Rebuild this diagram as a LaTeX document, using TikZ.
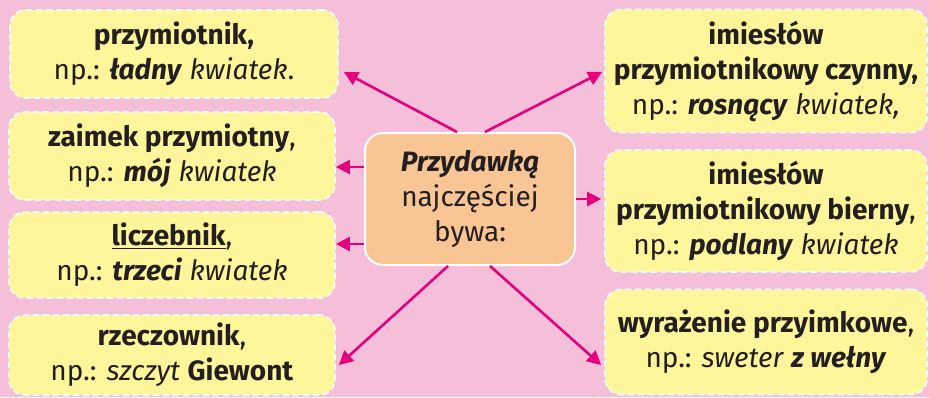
\documentclass[tikz,border=0pt]{standalone}
\usepackage{fontspec}
\setmainfont{Fira Sans}
\usetikzlibrary{arrows.meta}
\definecolor{bgpink}{HTML}{F6BFD9}
\definecolor{boxyellow}{HTML}{FFF59B}
\definecolor{huborange}{HTML}{F9C594}
\definecolor{linkpink}{HTML}{E5007D}
\definecolor{ink}{HTML}{231F20}

\begin{document}
\begin{tikzpicture}[x=1pt, y=-1pt,
    box/.style={rectangle, rounded corners=16pt, fill=boxyellow, draw=white,
      line width=1.8pt, dash pattern=on 6pt off 4pt, text=ink, align=center,
      font=\fontsize{28}{35}\selectfont, inner sep=0pt},
    hub/.style={rectangle, rounded corners=18pt, fill=huborange, draw=white,
      line width=2pt, text=ink, align=center,
      font=\fontsize{28}{35}\selectfont, minimum width=210pt, minimum height=132pt},
    link/.style={draw=linkpink, line width=2.6pt,
      -{Triangle[length=14pt,width=14pt]}}]
  \fill[bgpink] (0,0) rectangle (929,397);
  \useasboundingbox (0,0) rectangle (929,397);

  \node[hub] (hub) at (470,199) {\textbf{\textit{Przydawką}}\\najczęściej\\bywa:};

  \node[box, minimum width=328pt, minimum height=88pt] (L1) at (174,54)
    {\textbf{przymiotnik,}\\np.: \textbf{\textit{ładny}} \textit{kwiatek}.};
  \node[box, minimum width=326pt, minimum height=88pt] (L2) at (172,156)
    {\textbf{zaimek przymiotny},\\np.: \textbf{\textit{mój}} \textit{kwiatek}};
  \node[box, minimum width=326pt, minimum height=86pt] (L3) at (172,255)
    {\underline{\textbf{liczebnik}},\\np.: \textbf{\textit{trzeci}} \textit{kwiatek}};
  \node[box, minimum width=326pt, minimum height=80pt] (L4) at (172,355)
    {\textbf{rzeczownik},\\np.: \textit{szczyt} \textbf{Giewont}};

  \node[box, minimum width=322pt, minimum height=123pt] (R1) at (766,71)
    {\textbf{imiesłów}\\\textbf{przymiotnikowy czynny,}\\np.: \textbf{\textit{rosnący}} \textit{kwiatek,}};
  \node[box, minimum width=322pt, minimum height=122pt] (R2) at (766,211)
    {\textbf{imiesłów}\\\textbf{przymiotnikowy bierny},\\np.: \textbf{\textit{podlany}} \textit{kwiatek}};
  \node[box, minimum width=322pt, minimum height=105pt] (R3) at (766,342)
    {\textbf{wyrażenie przyimkowe},\\np.: \textit{sweter} \textbf{\textit{z wełny}}};

  % arrows out of the hub
  \draw[link] ([xshift=-13pt]hub.north) -- ([xshift=5pt,yshift=-18pt]L1.east);
  \draw[link] ([xshift=15pt]hub.north) -- ([xshift=-2pt,yshift=-1pt]R1.west);
  \draw[link] ([yshift=32pt]hub.west) -- ([yshift=32pt]hub.west -| L2.east);
  \draw[link] ([yshift=-45pt]hub.west) -- ([yshift=-45pt]hub.west -| L3.east);
  \draw[link] (hub.east) -- ([xshift=-3pt]hub.east -| R2.west);
  \draw[link] ([xshift=-22pt]hub.south) -- ([xshift=3pt,yshift=-10pt]L4.east);
  \draw[link] ([xshift=20pt]hub.south) -- ([xshift=-3pt,yshift=-23pt]R3.west);
\end{tikzpicture}
\end{document}
